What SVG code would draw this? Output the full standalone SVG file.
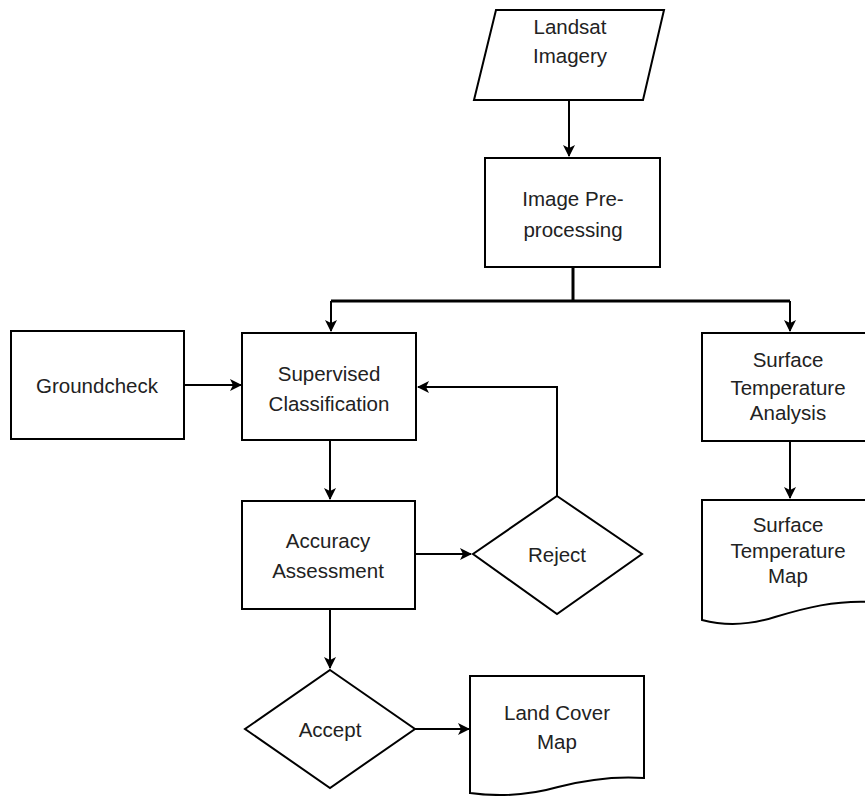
<svg xmlns="http://www.w3.org/2000/svg" width="865" height="796" viewBox="0 0 865 796">
<defs>
<marker id="arr" viewBox="0 0 12 12" refX="11" refY="6" markerWidth="12" markerHeight="12" markerUnits="userSpaceOnUse" orient="auto">
<path d="M0,0 L12,6 L0,12 L3,6 Z" fill="#000"/>
</marker>
</defs>
<style>
.n{fill:#fff;stroke:#000;stroke-width:2}
.t{font-family:"Liberation Sans",Arial,sans-serif;font-size:20.5px;fill:#222;text-anchor:middle}
.c{fill:none;stroke:#000;stroke-width:2}
.ct{fill:none;stroke:#000;stroke-width:3}
</style>
<rect width="865" height="796" fill="#fff"/>
<g id="connectors">
<path class="c" d="M569,100 V156" marker-end="url(#arr)"/>
<path class="ct" d="M573,267 V301"/>
<path class="ct" d="M331,301 H790"/>
<path class="c" d="M331,301 V331" marker-end="url(#arr)"/>
<path class="c" d="M790,301 V331" marker-end="url(#arr)"/>
<path class="c" d="M184,385 H241" marker-end="url(#arr)"/>
<path class="c" d="M557,496 V387 H418" marker-end="url(#arr)"/>
<path class="c" d="M330,440 V499" marker-end="url(#arr)"/>
<path class="c" d="M415,554 H471" marker-end="url(#arr)"/>
<path class="c" d="M330,609 V668" marker-end="url(#arr)"/>
<path class="c" d="M415,729 H469" marker-end="url(#arr)"/>
<path class="c" d="M790,441 V498" marker-end="url(#arr)"/>
</g>
<g id="landsat">
<path class="n" d="M496,10 H664 L643,100 H474 Z"/>
<text class="t" x="570" y="34">Landsat</text>
<text class="t" x="570" y="63">Imagery</text>
</g>
<g id="preprocessing">
<rect class="n" x="485" y="158" width="175" height="109"/>
<text class="t" x="573" y="206">Image Pre-</text>
<text class="t" x="573" y="237">processing</text>
</g>
<g id="groundcheck">
<rect class="n" x="11" y="331" width="173" height="108"/>
<text class="t" x="97" y="393">Groundcheck</text>
</g>
<g id="supervised">
<rect class="n" x="242" y="333" width="174" height="107"/>
<text class="t" x="329" y="381">Supervised</text>
<text class="t" x="329" y="411">Classification</text>
</g>
<g id="accuracy">
<rect class="n" x="242" y="501" width="173" height="108"/>
<text class="t" x="328" y="548">Accuracy</text>
<text class="t" x="328" y="578">Assessment</text>
</g>
<g id="reject">
<path class="n" d="M557,496 L642,554 L557,614 L473,554 Z"/>
<text class="t" x="557" y="562">Reject</text>
</g>
<g id="accept">
<path class="n" d="M330,670 L415,729 L330,788 L245,729 Z"/>
<text class="t" x="330" y="737">Accept</text>
</g>
<g id="landcover">
<path class="n" d="M470,676 H644 V778 C615,776 585,780 558,787 C530,795 500,797 470,793 Z"/>
<text class="t" x="557" y="720">Land Cover</text>
<text class="t" x="557" y="749">Map</text>
</g>
<g id="surfaceanalysis">
<rect class="n" x="702" y="333" width="170" height="108"/>
<text class="t" x="788" y="367">Surface</text>
<text class="t" x="788" y="395">Temperature</text>
<text class="t" x="788" y="420">Analysis</text>
</g>
<g id="surfacemap">
<path class="n" d="M702,500 H872 V602 C835,600 805,608 775,617 C750,625 725,626 702,620 Z"/>
<text class="t" x="788" y="532">Surface</text>
<text class="t" x="788" y="558">Temperature</text>
<text class="t" x="788" y="583">Map</text>
</g>
</svg>
